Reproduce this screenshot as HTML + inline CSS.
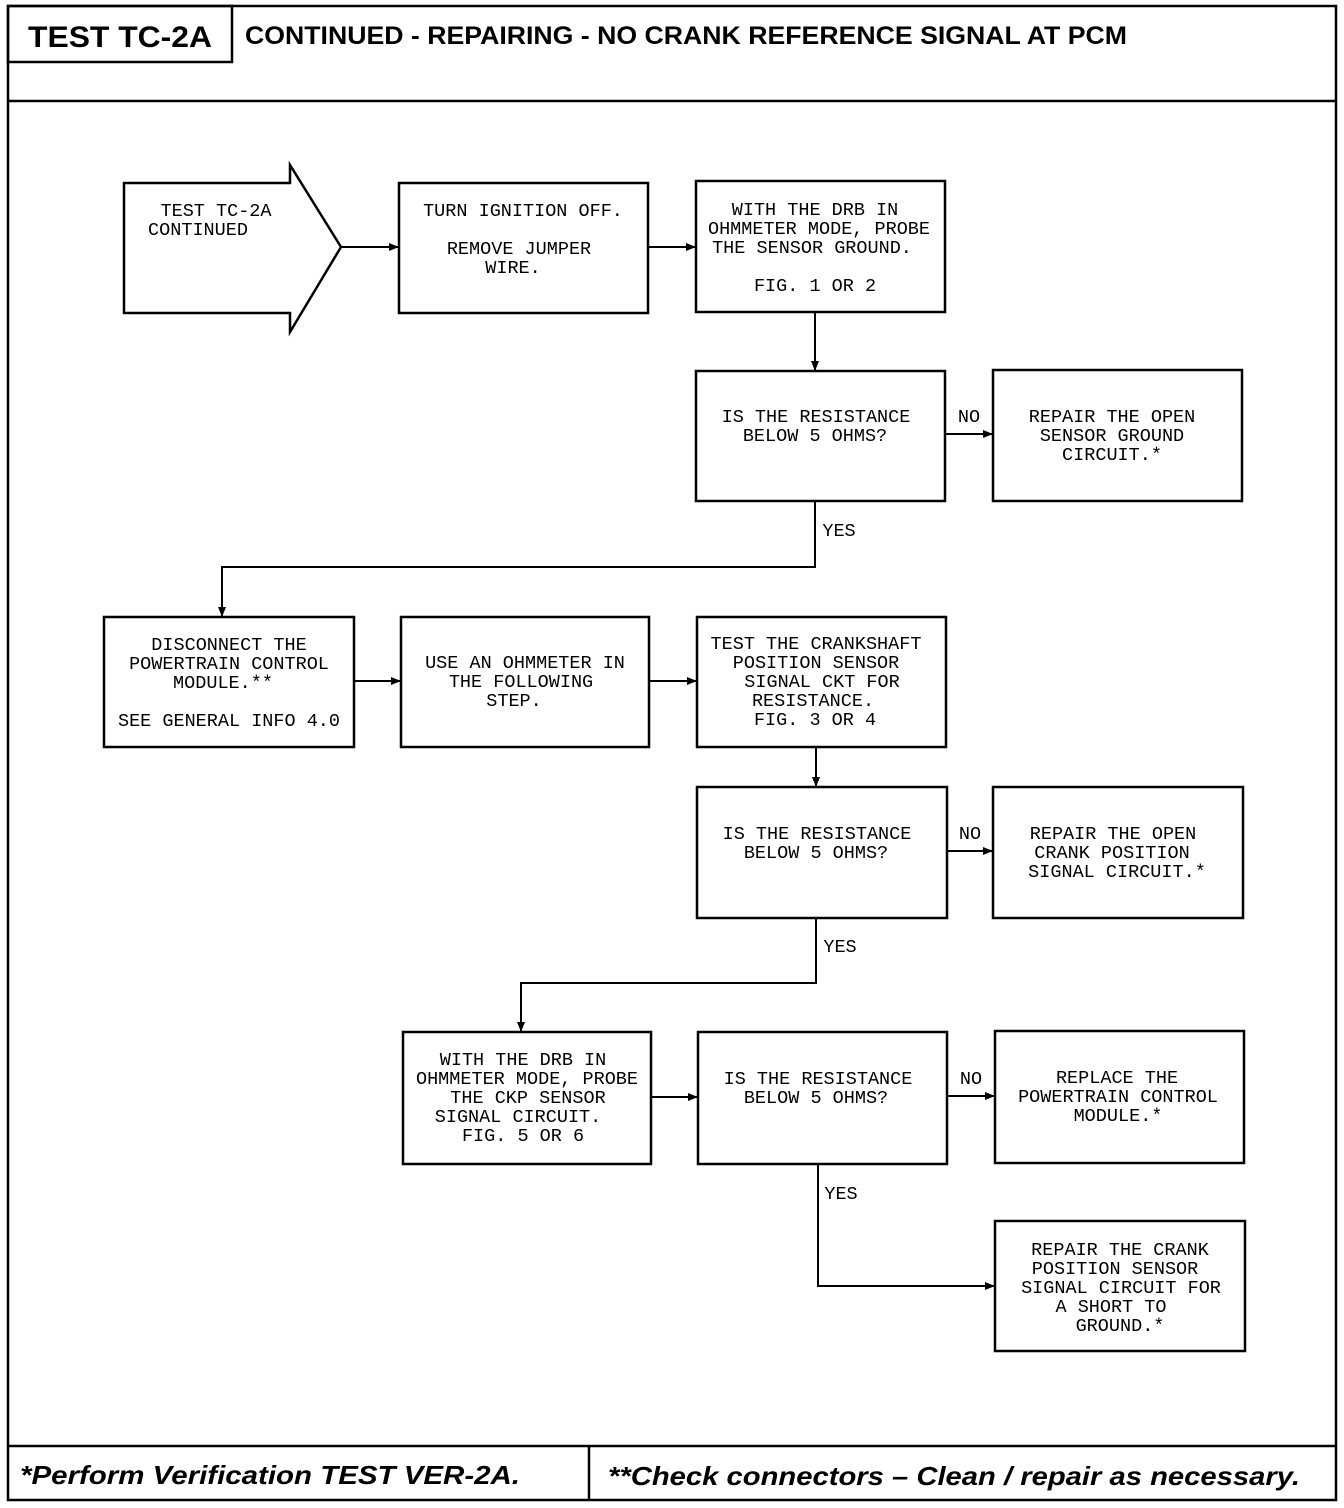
<!DOCTYPE html>
<html><head><meta charset="utf-8"><style>
body{margin:0;background:#fff}
svg{display:block}
.t{font-family:"Liberation Mono",monospace;font-size:18.5px;fill:#000}
.b{fill:none;stroke:#000;stroke-width:2.5}
.l{fill:none;stroke:#000;stroke-width:2}
</style></head><body>
<svg width="1344" height="1508" viewBox="0 0 1344 1508" xmlns="http://www.w3.org/2000/svg">
<defs><marker id="a" markerWidth="10" markerHeight="8" refX="9" refY="4" orient="auto" markerUnits="userSpaceOnUse"><path d="M0,0 L10,4 L0,8 z" fill="#000"/></marker></defs>
<rect x="8" y="6" width="1328" height="1494" class="b" stroke-width="3"/>
<line x1="8" y1="101" x2="1336" y2="101" class="b" stroke-width="3"/>
<rect x="8" y="6" width="224" height="56" class="b"/>
<text x="28" y="47" font-family="Liberation Sans,sans-serif" font-weight="bold" font-size="30" textLength="184" lengthAdjust="spacingAndGlyphs">TEST TC-2A</text>
<text x="245" y="44" font-family="Liberation Sans,sans-serif" font-weight="bold" font-size="25" textLength="882" lengthAdjust="spacingAndGlyphs">CONTINUED - REPAIRING - NO CRANK REFERENCE SIGNAL AT PCM</text>
<line x1="8" y1="1446" x2="1336" y2="1446" class="b" stroke-width="3"/>
<line x1="589" y1="1446" x2="589" y2="1500" class="b"/>
<text x="20" y="1484" font-family="Liberation Sans,sans-serif" font-weight="bold" font-style="italic" font-size="26" textLength="500" lengthAdjust="spacingAndGlyphs">*Perform  Verification  TEST  VER-2A.</text>
<text x="608" y="1485" font-family="Liberation Sans,sans-serif" font-weight="bold" font-style="italic" font-size="26" textLength="692" lengthAdjust="spacingAndGlyphs">**Check  connectors  –  Clean / repair  as  necessary.</text>

<path d="M124,183 H290 V165 L341,247 L290,332 V313 H124 Z" class="b"/>
<g class="t" text-anchor="middle">
<text x="216" y="216">TEST TC-2A</text><text x="198" y="235">CONTINUED</text>

<rect x="399" y="183" width="249" height="130" class="b"/>
<text x="523" y="216">TURN IGNITION OFF.</text>
<text x="519" y="254">REMOVE JUMPER</text><text x="513" y="273">WIRE.</text>

<rect x="696" y="181" width="249" height="131" class="b"/>
<text x="815" y="215">WITH THE DRB IN</text><text x="819" y="234">OHMMETER MODE, PROBE</text><text x="812" y="253">THE SENSOR GROUND.</text>
<text x="815" y="291">FIG. 1 OR 2</text>

<rect x="696" y="371" width="249" height="130" class="b"/>
<text x="816" y="422">IS THE RESISTANCE</text><text x="815" y="441">BELOW 5 OHMS?</text>
<rect x="993" y="370" width="249" height="131" class="b"/>
<text x="1112" y="422">REPAIR THE OPEN</text><text x="1112" y="441">SENSOR GROUND</text><text x="1112" y="460">CIRCUIT.*</text>

<rect x="104" y="617" width="250" height="130" class="b"/>
<text x="229" y="650">DISCONNECT THE</text><text x="229" y="669">POWERTRAIN CONTROL</text><text x="223" y="688">MODULE.**</text>
<text x="229" y="726">SEE GENERAL INFO 4.0</text>

<rect x="401" y="617" width="248" height="130" class="b"/>
<text x="525" y="668">USE AN OHMMETER IN</text><text x="521" y="687">THE FOLLOWING</text><text x="514" y="706">STEP.</text>

<rect x="697" y="617" width="249" height="130" class="b"/>
<text x="816" y="649">TEST THE CRANKSHAFT</text><text x="816" y="668">POSITION SENSOR</text><text x="822" y="687">SIGNAL CKT FOR</text><text x="813" y="706">RESISTANCE.</text><text x="815" y="725">FIG. 3 OR 4</text>

<rect x="697" y="787" width="250" height="131" class="b"/>
<text x="817" y="839">IS THE RESISTANCE</text><text x="816" y="858">BELOW 5 OHMS?</text>
<rect x="993" y="787" width="250" height="131" class="b"/>
<text x="1113" y="839">REPAIR THE OPEN</text><text x="1112" y="858">CRANK POSITION</text><text x="1117" y="877">SIGNAL CIRCUIT.*</text>

<rect x="403" y="1032" width="248" height="132" class="b"/>
<text x="523" y="1065">WITH THE DRB IN</text><text x="527" y="1084">OHMMETER MODE, PROBE</text><text x="528" y="1103">THE CKP SENSOR</text><text x="518" y="1122">SIGNAL CIRCUIT.</text><text x="523" y="1141">FIG. 5 OR 6</text>

<rect x="698" y="1032" width="249" height="132" class="b"/>
<text x="818" y="1084">IS THE RESISTANCE</text><text x="816" y="1103">BELOW 5 OHMS?</text>
<rect x="995" y="1031" width="249" height="132" class="b"/>
<text x="1117" y="1083">REPLACE THE</text><text x="1118" y="1102">POWERTRAIN CONTROL</text><text x="1118" y="1121">MODULE.*</text>

<rect x="995" y="1221" width="250" height="130" class="b"/>
<text x="1120" y="1255">REPAIR THE CRANK</text><text x="1115" y="1274">POSITION SENSOR</text><text x="1121" y="1293">SIGNAL CIRCUIT FOR</text><text x="1111" y="1312">A SHORT TO</text><text x="1120" y="1331">GROUND.*</text>

<text x="969" y="422">NO</text><text x="970" y="839">NO</text><text x="971" y="1084">NO</text>
<text x="839" y="536">YES</text><text x="840" y="952">YES</text><text x="841" y="1199">YES</text>
</g>

<g class="l">
<line x1="341" y1="247" x2="398" y2="247" marker-end="url(#a)"/>
<line x1="648" y1="247" x2="695" y2="247" marker-end="url(#a)"/>
<line x1="815" y1="312" x2="815" y2="370" marker-end="url(#a)"/>
<line x1="945" y1="434" x2="992" y2="434" marker-end="url(#a)"/>
<polyline points="815,501 815,567 222,567 222,616" marker-end="url(#a)"/>
<line x1="354" y1="681" x2="400" y2="681" marker-end="url(#a)"/>
<line x1="649" y1="681" x2="696" y2="681" marker-end="url(#a)"/>
<line x1="816" y1="747" x2="816" y2="786" marker-end="url(#a)"/>
<line x1="947" y1="851" x2="992" y2="851" marker-end="url(#a)"/>
<polyline points="816,918 816,983 521,983 521,1031" marker-end="url(#a)"/>
<line x1="651" y1="1097" x2="697" y2="1097" marker-end="url(#a)"/>
<line x1="947" y1="1096" x2="994" y2="1096" marker-end="url(#a)"/>
<polyline points="818,1164 818,1286 994,1286" marker-end="url(#a)"/>
</g>
</svg>
</body></html>
